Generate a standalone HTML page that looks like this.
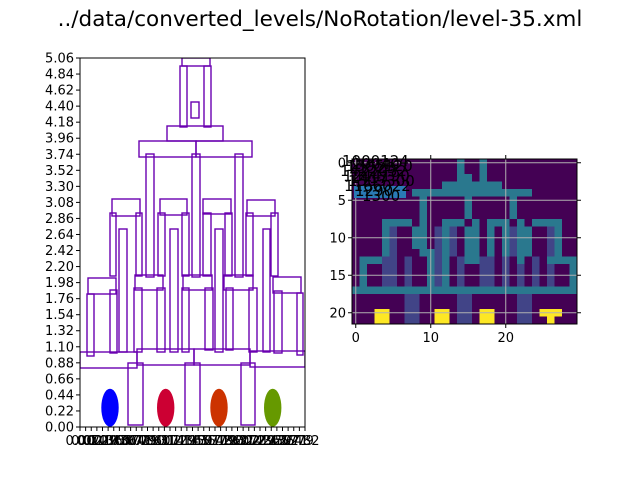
<!DOCTYPE html>
<html><head><meta charset="utf-8">
<style>
html,body{margin:0;padding:0;background:#fff;}
svg{display:block;font-family:"DejaVu Sans","Liberation Sans",sans-serif;}
</style></head>
<body>
<svg id="chart" width="640" height="480" viewBox="0 0 640 480" xmlns="http://www.w3.org/2000/svg">
<rect x="0" y="0" width="640" height="480" fill="#fff"/>
<text x="320" y="26" font-size="21.5" text-anchor="middle" fill="#000">../data/converted_levels/NoRotation/level-35.xml</text>
<g id="left"></g>
<g id="right"></g>
</svg>
<script>
// ---- left chart data (x in level units 0..225, y in level units 0..369) ----
const blockRects = [
 [102,130,361,369],[100,107,300,361],[124,131,300,361],[111,119,309,325],
 [87,143,286,301],[59,116,270,286],[116,172,270,286],
 [66,74,150,273],[112,120,150,273],[155,163,150,273],
 [32,60,211,228],[80,107,212,228],[123,151,213,228],[167,195,211,227],
 [30,36,151,214],[56,62,151,214],[78,85,151,214],[102,109,151,214],
 [123,131,151,214],[145,152,151,214],[166,173,151,214],[191,198,151,214],
 [39,47,75,198],[90,98,75,198],[135,143,75,198],[183,190,75,198],
 [8,36,133,149],[55,83,137,152],[103,132,137,152],[144,173,137,152],[193,221,134,150],
 [7,14,71,133],[30,37,74,137],[54,62,75,139],[77,85,75,139],[102,109,75,139],
 [125,133,77,139],[146,153,77,139],[169,177,75,139],[194,202,74,136],[217,223,72,134],
 [0,57,59,75],[57,114,62,78],[114,170,62,78],[170,225,60,76],
 [48,63,2,64],[105,120,2,64],[161,175,2,64]
];
const pigX = [30,85.7,139,192.7];
const pigY = [19.3,19.3,19.3,19.3];
const pigColors = ["#0000ff","#cc0033","#cc3300","#669900"];
const yTickLabels = ["0.00","0.22","0.44","0.66","0.88","1.10","1.32","1.54","1.76","1.98","2.20","2.42","2.64","2.86","3.08","3.30","3.52","3.74","3.96","4.18","4.40","4.62","4.84","5.06"];
const xTickLabels = ["0.00","0.07","0.14","0.21","0.29","0.36","0.43","0.50","0.57","0.64","0.71","0.79","0.86","0.93","1.00","1.07","1.14","1.21","1.29","1.36","1.43","1.50","1.57","1.64","1.71","1.79","1.86","1.93","2.00","2.07","2.14","2.21","2.29","2.36","2.43","2.50","2.57","2.64","2.71","2.79","2.82"];

// ---- right heatmap data ----
const gridRows = [
"000000000000002002000000000000",
"000000000000002002000000000000",
"000000000000002202000000000000",
"000000000000222222220000000000",
"000000002222222222222222000000",
"000000000200000200000200000000",
"000000000200000200000200000000",
"000000000200000200000200000000",
"000022220200222020222020222200",
"000021002201210220202122001200",
"000021002201210220202122001200",
"000021002201210220202122001200",
"000021000221210220202122001200",
"022211010021201221101020102222",
"020011010021201001101010101002",
"020011010021201001101010101002",
"020011010021201001101010101002",
"222222222222222222222222222222",
"000000011000001100000011000000",
"000000011000001100000011000000",
"000550011005501105500011055500",
"000550011005501105500011005000"
];
const xTicksR = [0,10,20];
const yTicksR = [0,5,10,15,20];
const valueColors = ["#440154","#414487","#2a788e","#2a788e","#7ad151","#fde725"];

const NS="http://www.w3.org/2000/svg";
function mk(tag, attrs, parent){const e=document.createElementNS(NS,tag);for(const k in attrs)e.setAttribute(k,attrs[k]);parent.appendChild(e);return e;}

// left axes
const L={x0:80,x1:305,y0:427,y1:58};
const sxL=v=>L.x0+v*(L.x1-L.x0)/225;
const syL=v=>L.y0-v*(L.y0-L.y1)/369;
const left=document.getElementById('left');
const clip=mk('clipPath',{id:'lclip'},left);
mk('rect',{x:L.x0,y:L.y1,width:L.x1-L.x0,height:L.y0-L.y1},clip);
const plot=mk('g',{'clip-path':'url(#lclip)'},left);


blockRects.forEach((r,i)=>{
 const e=mk('rect',{x:sxL(r[0]),y:syL(r[3]),width:sxL(r[1])-sxL(r[0]),height:syL(r[2])-syL(r[3]),fill:'none',stroke:'#6a00b0','stroke-width':1.4},plot);
 
 
});
pigX.forEach((x,i)=>{
 const e=mk('ellipse',{cx:sxL(x),cy:syL(pigY[i]),rx:8.7,ry:19,fill:pigColors[i]},plot);
 
 
});
const lf=mk('rect',{x:L.x0,y:L.y1,width:L.x1-L.x0,height:L.y0-L.y1,fill:'none',stroke:'#000','stroke-width':1},left);


yTickLabels.forEach((t,i)=>{
 const y=L.y0-i*(L.y0-L.y1)/(yTickLabels.length-1);
 mk('line',{x1:L.x0-4,x2:L.x0,y1:y,y2:y,stroke:'#000'},left);
 const e=mk('text',{x:L.x0-6,y:y+4.5,'font-size':13,'text-anchor':'end'},left);
 e.textContent=t;
 
 
});
xTickLabels.forEach((t,i)=>{
 const x=L.x0+i*(L.x1-L.x0)/(xTickLabels.length-1);
 mk('line',{x1:x,x2:x,y1:L.y0,y2:L.y0+4,stroke:'#000'},left);
 const e=mk('text',{x:x,y:L.y0+18,'font-size':13,'text-anchor':'middle'},left);
 e.textContent=t;
 
 
});

// right heatmap
const R={x0:352,y0:159,cw:7.5,ch:7.5};
const sxR=c=>R.x0+(c+0.5)*R.cw;
const syR=r=>R.y0+(r+0.5)*R.ch;
const right=document.getElementById('right');
gridRows.forEach((row,r)=>{
 for(let c=0;c<row.length;c++){
  const e=mk('rect',{x:sxR(c)-R.cw/2,y:syR(r)-R.ch/2,width:R.cw+0.3,height:R.ch+0.3,fill:valueColors[+row[c]]},right);
  
  
 }
});
const W=30*R.cw,H=22*R.ch;
xTicksR.forEach(v=>{
 const x=sxR(v);
 mk('line',{x1:x,x2:x,y1:R.y0,y2:R.y0+H,stroke:'#b0b0b0','stroke-width':1},right);
 mk('line',{x1:x,x2:x,y1:R.y0+H,y2:R.y0+H+4,stroke:'#000'},right);
 mk('line',{x1:x,x2:x,y1:R.y0,y2:R.y0-4,stroke:'#000'},right);
 const e=mk('text',{x:x,y:R.y0+H+18,'font-size':13,'text-anchor':'middle'},right);
 e.textContent=v;
 
 
});
yTicksR.forEach(v=>{
 const y=syR(v);
 mk('line',{x1:R.x0,x2:R.x0+W,y1:y,y2:y,stroke:'#b0b0b0','stroke-width':1},right);
 mk('line',{x1:R.x0-4,x2:R.x0,y1:y,y2:y,stroke:'#000'},right);
 mk('line',{x1:R.x0+W,x2:R.x0+W+4,y1:y,y2:y,stroke:'#000'},right);
 const e=mk('text',{x:R.x0-6,y:y+4.5,'font-size':13,'text-anchor':'end'},right);
 e.textContent=v;
 
 
});
const rf=mk('rect',{x:R.x0,y:R.y0,width:W,height:H,fill:'none',stroke:'#000'},right);


// overlapping annotation blob
const blob=mk('rect',{x:354,y:186,width:52,height:12,fill:'#2a7ab5'},right);


const annTexts=[["1000124",342,166],["1305120",346,171],["1422032",340,176],["1244190",343,181],["1503300",348,186],["1166022",344,191],["1300",362,201],["1290",355,196],["10040",352,169],["1523",358,173],["1417",350,183]];
annTexts.forEach(a=>{
 const e=mk('text',{x:a[1],y:a[2],'font-size':15,fill:'#000'},right);
 e.textContent=a[0];
 
 
});
</script>
</body></html>
